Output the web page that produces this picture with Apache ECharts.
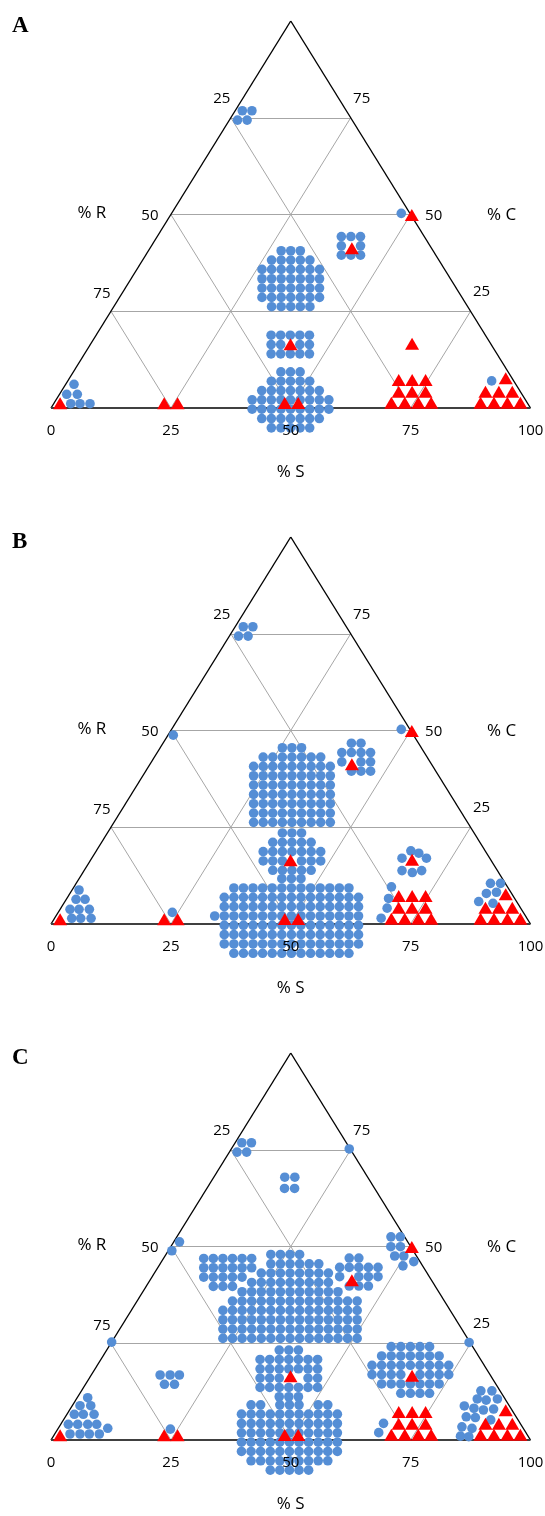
<!DOCTYPE html>
<html><head><meta charset="utf-8">
<script src="https://cdn.jsdelivr.net/npm/echarts/dist/echarts.min.js"></script>
<style>html,body{margin:0;padding:0;background:#fff}#chart{width:545px;height:1516px}</style>
</head><body><div id="chart"></div>
<script>
// ================= DATA =================
const panelNames = ['A', 'B', 'C'];
const sTicks = [0, 25, 50, 75, 100];      // % S along the base
const rTicks = [25, 50, 75];              // % R along the left side
const cTicks = [75, 50, 25];              // % C along the right side
const gridLevels = [25, 50, 75];

// step between stacked replicate observations (data units: x = S + C/2, y = C)
const DX = 2.0, DY = 2.41;

// red triangles, identical in all three panels: [S, C]
const triangles = [
  [1.3, 1.2], [23.0, 1.2], [25.8, 1.2], [48.1, 1.3], [50.9, 1.3],
  [41.7, 16.5], [42.1, 41.3], [50.3, 49.9], [67.0, 16.6],
  [68.9, 7.24], [71.7, 7.24], [74.5, 7.24],
  [70.4, 4.21], [73.2, 4.21], [76.0, 4.21],
  [70.3, 1.37], [73.1, 1.37], [75.9, 1.37], [78.6, 1.37],
  [91.0, 7.67], [88.5, 4.21], [91.3, 4.21], [94.1, 4.21],
  [88.9, 1.37], [91.7, 1.37], [94.5, 1.37], [97.2, 1.37]
];

// stacked groups of observations sharing a composition: centre [S, C] + arrangement
const groupsA = [
  { s: 2.6, c: 75.6, rows: [' o o', 'o o'] },
  { s: 33.3, c: 33.4, rows: ['    o o o', '  o o o o o', 'o o o o o o o', 'o o o o o o o', 'o o o o o o o', 'o o o o o o o', '  o o o o o'] },
  { s: 41.7, c: 16.4, rows: ['o o o o o', 'o o   o o', 'o o o o o'] },
  { s: 48.9, c: 2.1, rows: ['      o o o', '    o o o o o', '  o o o o o o o', 'o o o o o o o o o', 'o o o o o o o o o', '  o o o o o o o', '    o o o o o'] },
  { s: 41.6, c: 41.9, rows: ['o o o', 'o   o', 'o o o'] }
];
const pointsA = [
  [1.74, 6.12], [1.51, 3.54], [3.72, 3.54], [3.56, 1.11], [5.50, 1.11], [7.58, 1.11],
  [47.9, 50.3], [88.4, 7.0]
];

const groupsB = [
  { s: 2.8, c: 75.6, rows: [' o o', 'o o'] },
  { s: 32.3, c: 35.9, rows: ['      o o o', '  o o o o o o o', 'o o o o o o o o o', 'o o o o o o o o o', 'o o o o o o o o o', 'o o o o o o o o o', 'o o o o o o o o o', 'o o o o o o o o o', 'o o o o o o o o o'] },
  { s: 40.9, c: 18.7, rows: ['    o o o', '  o o o o o', 'o o o o o o o', 'o o o   o o o', '  o o o o o'] },
  { s: 48.1, c: 2.07, rows: [
    '              o o o',
    '    o o o o o o o o o o o o o',
    '  o o o o o o o o o o o o o o o',
    '  o o o o o o o o o o o o o o o',
    'o o o o o o o o o o o o o o o o',
    '  o o o o o o o o o o o o o o o',
    '  o o o o o o o o o o o o o o o',
    '  o o o o o o o o o o o o o o o',
    '    o o o o o o o o o o o o o'] },
  { s: 42.1, c: 43.1, rows: ['  o o', 'o o o o', 'o   o o', '  o o o'] }
];
const pointsB = [
  [1.1, 48.8],
  [1.45, 8.79], [2.03, 6.38], [3.91, 6.38], [2.07, 3.80], [3.95, 3.80], [6.1, 3.80], [3.59, 1.47], [5.47, 1.47], [7.62, 1.47],
  [23.8, 3.0], [47.9, 50.3],
  [65.6, 18.9], [67.55, 18.3], [64.7, 17.0], [69.8, 17.0], [66.3, 13.8], [68.7, 13.3], [70.4, 13.8],
  [66.2, 9.6], [67.1, 6.6], [68.05, 4.1], [68.1, 1.5],
  [86.4, 10.5], [88.5, 10.5], [86.85, 7.9], [88.8, 8.2], [86.3, 5.8], [89.5, 5.35]
];

const groupsC = [
  { s: 2.5, c: 75.6, rows: [' o o', 'o o'] },
  { s: 15.2, c: 43.3, rows: ['o o o o o o', 'o o o o o o', 'o o o o o', '  o o o'] },
  { s: 31.3, c: 37.1, rows: [
    '          o o o o',
    '          o o o o o o',
    '        o o o o o o o o',
    '      o o o o o o o o o',
    '    o o o o o o o o o o o',
    '  o o o o o o o o o o o o o o',
    'o o o o o o o o o o o o o o o',
    'o o o o o o o o o o o o o o o',
    'o o o o o o o o o o o o o o o',
    'o o o o o o o o o o o o o o o'] },
  { s: 42.5, c: 43.4, rows: ['  o o', 'o o o o o', 'o   o o o', '  o o o'] },
  { s: 65.9, c: 18.1, rows: ['    o o o o o', '  o o o o o o o', 'o o o o o o o o o', 'o o o o   o o o o', '  o o o o o o o', '      o o o o'] },
  { s: 41.0, c: 17.2, rows: ['    o o o', 'o o o o o o o', 'o o o o o o o', 'o o o     o o', 'o o o o o o o', '    o o o'] },
  { s: 49.4, c: 0.65, rows: [
    '  o o   o o o   o o',
    'o o o o o o o o o o o',
    'o o o o o o o o o o o',
    'o o o o o o o o o o o',
    'o o o o o o o o o o o',
    'o o o o o o o o o o o',
    '  o o o o o o o o o',
    '      o o o o o'] }
];
const pointsC = [
  [24.6, 75.2],
  [14.8, 67.9], [16.9, 67.9], [16.2, 65.0], [18.3, 65.0],
  [1.2, 51.2], [0.75, 48.9],
  [44.65, 52.5], [46.6, 52.5], [45.9, 49.95], [47.9, 49.95], [47.9, 47.55], [49.8, 47.55], [52.6, 46.1], [50.9, 45.0],
  [67.2, 4.3], [67.4, 1.9],
  [83.3, 12.7], [85.6, 12.7], [83.6, 10.6], [85.6, 10.3], [87.8, 10.6], [81.8, 8.8], [84.1, 8.2], [86.3, 7.75], [88.3, 8.0],
  [83.6, 6.0], [85.6, 5.8], [89.1, 5.2], [84.0, 3.4], [86.3, 3.0], [84.9, 1.0], [86.7, 0.85],
  [74.6, 25.2], [0.0, 25.3],
  [14.36, 16.8], [16.44, 16.8], [18.38, 16.8], [16.46, 14.4], [18.55, 14.4],
  [23.5, 2.8],
  [2.19, 10.93], [1.62, 8.86], [3.86, 8.86], [1.54, 6.64], [3.42, 6.64], [5.66, 6.64],
  [1.58, 4.06], [3.54, 4.06], [5.63, 4.06], [7.51, 4.06], [10.33, 3.02],
  [3.19, 1.55], [5.27, 1.55], [7.22, 1.55], [9.3, 1.55]
];

const panelGroups = [groupsA, groupsB, groupsC];
const panelPoints = [pointsA, pointsB, pointsC];

// ================= LAYOUT / DRAWING =================
const LEFT = 51, TOP0 = 21, W = 479.5, H = 387, STEP = 516;
const BLUE = '#558ed5', RED = '#ff0000';
const FONT = '"Open Sans", Lato, sans-serif';

function xy(s, c) { return [s + c / 2, c]; }

function expandGroup(g) {
  let minK = Infinity, maxK = -Infinity;
  g.rows.forEach(r => { for (let k = 0; k < r.length; k++) if (r[k] === 'o') { minK = Math.min(minK, k); maxK = Math.max(maxK, k); } });
  const kc = (minK + maxK) / 2, rc = (g.rows.length - 1) / 2;
  const [x0, y0] = xy(g.s, g.c);
  const out = [];
  g.rows.forEach((r, ri) => {
    for (let k = 0; k < r.length; k++) if (r[k] === 'o') out.push([x0 + (k - kc) * DX / 2, y0 - (ri - rc) * DY]);
  });
  return out;
}

function gridSegments() {
  const segs = [];
  gridLevels.forEach(v => {
    segs.push({ coords: [xy(0, v), xy(100 - v, v)] });
    segs.push({ coords: [xy(v, 0), xy(v, 100 - v)] });
    segs.push({ coords: [xy(100 - v, 0), xy(0, 100 - v)] });
  });
  return segs;
}

const grids = [], xAxes = [], yAxes = [], series = [], titles = [];
const labelOffLeft = { 25: [-9, -19], 50: [-21, 1], 75: [-9, -18] };
const labelOffRight = { 75: [11, -19], 50: [23, 1], 25: [11, -20] };

function labelSeries(i, items, offsets, fontSize) {
  return {
    type: 'scatter', xAxisIndex: i, yAxisIndex: i, silent: true, clip: false, z: 6,
    symbol: 'rect', symbolSize: 2, itemStyle: { color: 'rgba(255,255,255,0)' },
    label: {
      show: true, position: 'inside', formatter: '{b}', color: '#000', opacity: 1,
      textBorderWidth: 0, textShadowBlur: 0, fontSize: fontSize, fontFamily: FONT
    },
    labelLayout: function (p) { const o = offsets[p.dataIndex]; return { dx: o[0], dy: o[1], hideOverlap: false }; },
    data: items
  };
}

panelNames.forEach((name, i) => {
  grids.push({ left: LEFT, top: TOP0 + STEP * i, width: W, height: H, containLabel: false });
  xAxes.push({ gridIndex: i, type: 'value', min: 0, max: 100, show: false });
  yAxes.push({ gridIndex: i, type: 'value', min: 0, max: 100, show: false });
  const ax = { xAxisIndex: i, yAxisIndex: i };

  series.push(Object.assign({
    type: 'lines', coordinateSystem: 'cartesian2d', silent: true, z: 1,
    lineStyle: { color: '#a6a6a6', width: 1, opacity: 1 },
    data: gridSegments()
  }, ax));
  series.push(Object.assign({
    type: 'lines', coordinateSystem: 'cartesian2d', silent: true, z: 2,
    lineStyle: { color: '#000', width: 1.4, opacity: 1 },
    data: [{ coords: [xy(0, 0), xy(0, 100)] }, { coords: [xy(100, 0), xy(0, 100)] }]
  }, ax));
  series.push(Object.assign({
    type: 'lines', coordinateSystem: 'cartesian2d', silent: true, z: 2,
    lineStyle: { color: '#404040', width: 2, opacity: 1 },
    data: [{ coords: [xy(0, 0), xy(100, 0)] }]
  }, ax));

  let dots = [];
  panelGroups[i].forEach(g => { dots = dots.concat(expandGroup(g)); });
  panelPoints[i].forEach(p => dots.push(xy(p[0], p[1])));
  series.push(Object.assign({
    type: 'scatter', silent: true, clip: false, z: 3,
    symbol: 'circle', symbolSize: 9.6,
    itemStyle: { color: BLUE, opacity: 1 },
    data: dots
  }, ax));
  series.push(Object.assign({
    type: 'scatter', silent: true, clip: false, z: 4,
    symbol: 'triangle', symbolSize: [14, 12],
    itemStyle: { color: RED, opacity: 1 },
    data: triangles.map(p => xy(p[0], p[1]))
  }, ax));

  const labels = [], offs = [];
  sTicks.forEach(v => { labels.push({ name: String(v), value: xy(v, 0) }); offs.push([0, 23]); });
  rTicks.forEach(v => { labels.push({ name: String(v), value: xy(0, 100 - v) }); offs.push(labelOffLeft[v]); });
  cTicks.forEach(v => { labels.push({ name: String(v), value: xy(100 - v, v) }); offs.push(labelOffRight[v]); });
  series.push(labelSeries(i, labels, offs, 15));

  const tLabels = [
    { name: '% R', value: xy(0, 50) },
    { name: '% C', value: xy(50, 50) },
    { name: '% S', value: xy(50, 0) }
  ];
  series.push(labelSeries(i, tLabels, [[-79, -1], [91, 1], [0, 64]], 17));

  titles.push({
    text: name, left: 7, top: 10 + STEP * i,
    textStyle: { fontFamily: '"Liberation Serif", "DejaVu Serif", serif', fontWeight: 'bold', fontSize: 23, color: '#000' }
  });
});

const chart = echarts.init(document.getElementById('chart'), null, { renderer: 'canvas' });
chart.setOption({
  animation: false,
  backgroundColor: '#fff',
  title: titles,
  grid: grids,
  xAxis: xAxes,
  yAxis: yAxes,
  series: series
});
</script>
</body></html>
